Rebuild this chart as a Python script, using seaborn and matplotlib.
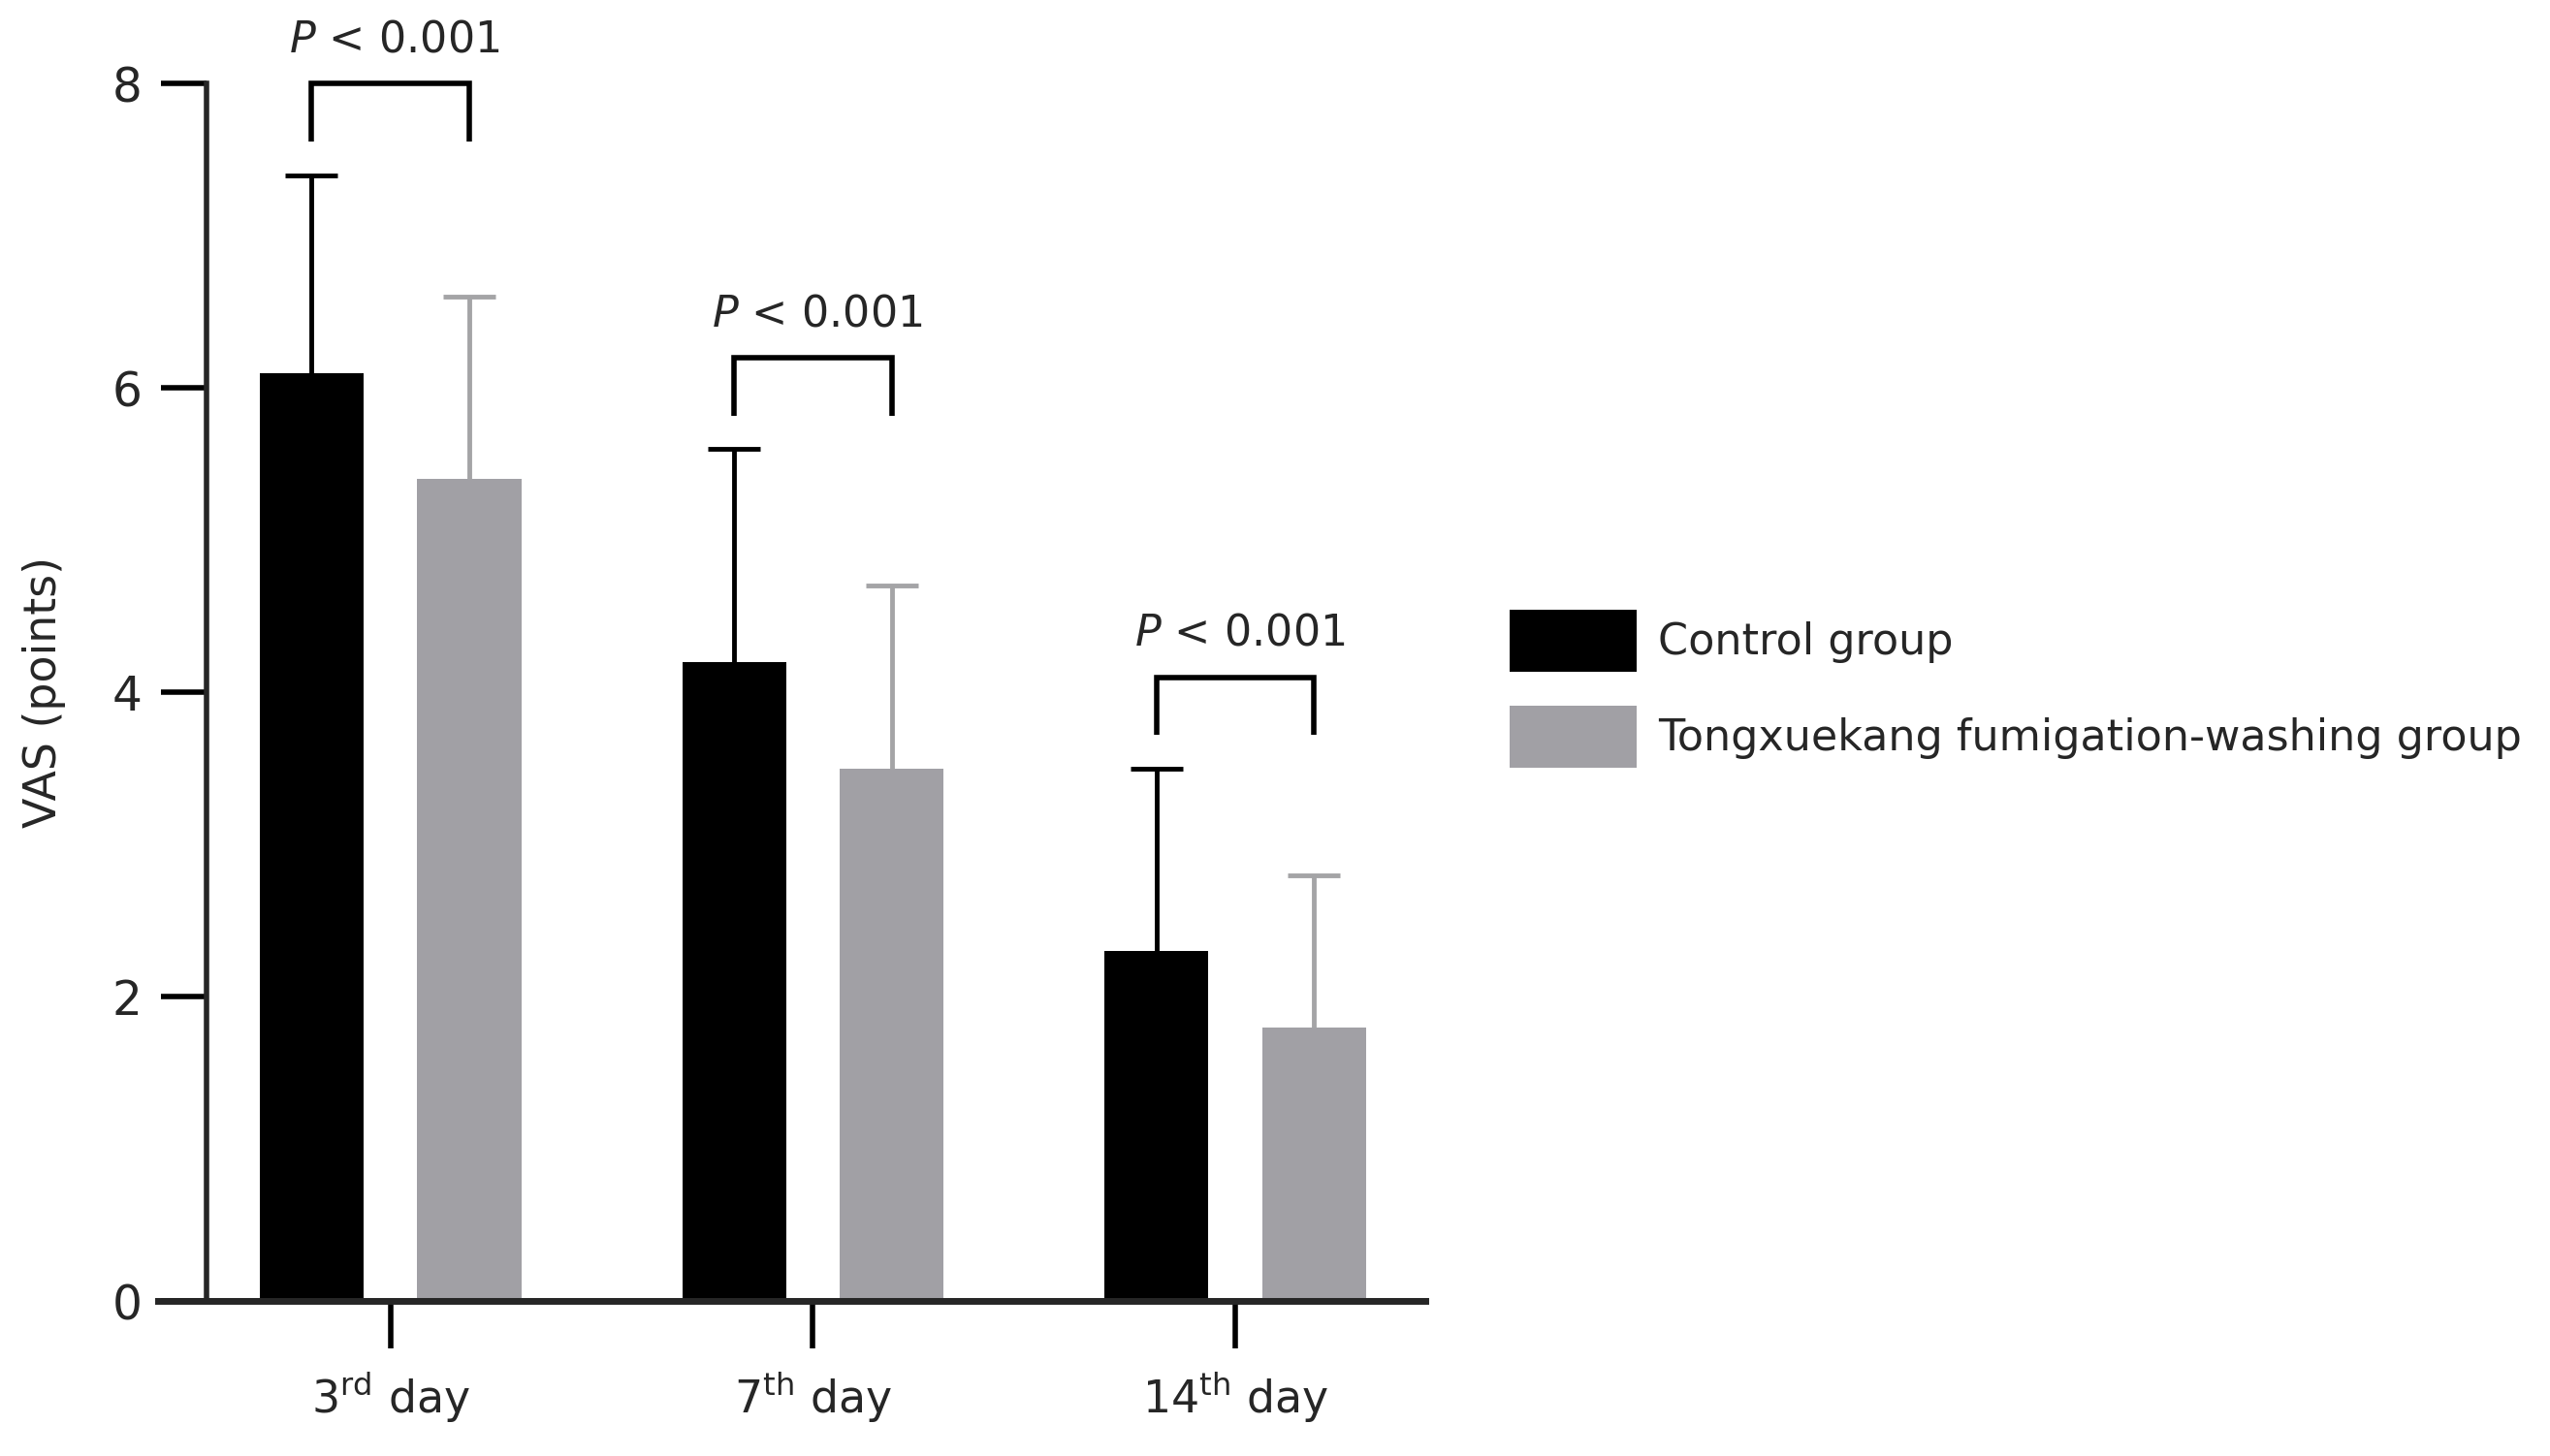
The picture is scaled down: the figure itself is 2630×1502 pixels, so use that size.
import matplotlib
matplotlib.use("Agg")
import matplotlib.pyplot as plt
import numpy as np
import pandas as pd
import seaborn as sns

# values (mean and SD of VAS points)
days = [r"3$^{\mathrm{rd}}$ day", r"7$^{\mathrm{th}}$ day", r"14$^{\mathrm{th}}$ day"]
groups = ["Control group", "Tongxuekang fumigation-washing group"]
control_mean = [6.1, 4.2, 2.3]
control_sd = [1.3, 1.4, 1.2]
tongx_mean = [5.4, 3.5, 1.8]
tongx_sd = [1.2, 1.2, 1.0]
p_text = ["< 0.001", "< 0.001", "< 0.001"]
y_ticks = [0, 2, 4, 6, 8]

colors = ["#000000", "#A1A0A5"]
err_colors = ["#000000", "#A4A4A6"]

df = pd.DataFrame({
    "day": days * 2,
    "group": [groups[0]] * len(days) + [groups[1]] * len(days),
    "vas": control_mean + tongx_mean,
})

sns.set_style("ticks")
plt.rcParams["font.family"] = ["DejaVu Sans"]
plt.rcParams["mathtext.fontset"] = "dejavusans"

tick_size, p_size, legend_size, xlab_size = 35, 32, 32, 33

fig = plt.figure(figsize=(26.3, 15.02), dpi=100)
ax = fig.add_axes([0.062, 0.1065, 0.497, 0.836])

sns.barplot(
    data=df, x="day", y="vas", hue="group", hue_order=groups,
    palette=colors, saturation=1, errorbar=None,
    width=0.746, gap=0.34, linewidth=0, ax=ax,
)

# upper SD error bars only
bar_centers = []
for container, sds, col in zip(ax.containers, [control_sd, tongx_sd], err_colors):
    centers = []
    for bar, sd in zip(container, sds):
        x = bar.get_x() + bar.get_width() / 2
        h = bar.get_height()
        centers.append(x)
        eb = ax.errorbar(x, h, yerr=[[0], [sd]], fmt="none", ecolor=col,
                         elinewidth=3.5, capsize=19.5, capthick=3.5,
                         clip_on=False, zorder=3)
        eb[1][0].set_visible(False)  # hide the lower cap sitting on the bar
    bar_centers.append(centers)

# significance brackets
tops = np.maximum(np.add(control_mean, control_sd), np.add(tongx_mean, tongx_sd))
for i, label in enumerate(p_text):
    x0, x1 = bar_centers[0][i], bar_centers[1][i]
    top = tops[i] + 0.6
    ax.plot([x0, x0, x1, x1], [top - 0.38, top, top, top - 0.38],
            color="black", lw=4, clip_on=False, solid_capstyle="butt",
            solid_joinstyle="miter")
    ax.text((x0 + x1) / 2 + 0.01, top + 0.15, r"$\it{P}$ " + label,
            ha="center", va="bottom", fontsize=p_size)

ax.set_xlim(-0.55, 2.45)
ax.set_ylim(0, 8)
ax.set_yticks(y_ticks)
sns.despine(ax=ax)
ax.spines["left"].set_position(("data", -0.435))
ax.spines["left"].set_linewidth(4)
ax.spines["bottom"].set_linewidth(5)
ax.tick_params(axis="y", length=34, width=4, pad=14, labelsize=tick_size, color="black")
ax.tick_params(axis="x", length=35, width=4, pad=16, labelsize=xlab_size, color="black")
ax.set_xlabel("")
ax.set_ylabel("VAS (points)", fontsize=33)
ax.yaxis.set_label_coords(-0.073, 0.5)

# legend box sizes in pixels, converted to font-size units
lpx = legend_size * 100 / 72
handle_w, handle_h, row_gap = 131, 64, 35
sns.move_legend(
    ax, loc="center left", bbox_to_anchor=(0.592, 0.527),
    bbox_transform=fig.transFigure, frameon=False, title=None,
    fontsize=legend_size, handlelength=handle_w / lpx,
    handleheight=(handle_h / lpx - 0.245) / 0.65,
    labelspacing=row_gap / lpx, handletextpad=22 / lpx,
    borderpad=0, borderaxespad=0,
)

fig.savefig("out.png", dpi=100)
